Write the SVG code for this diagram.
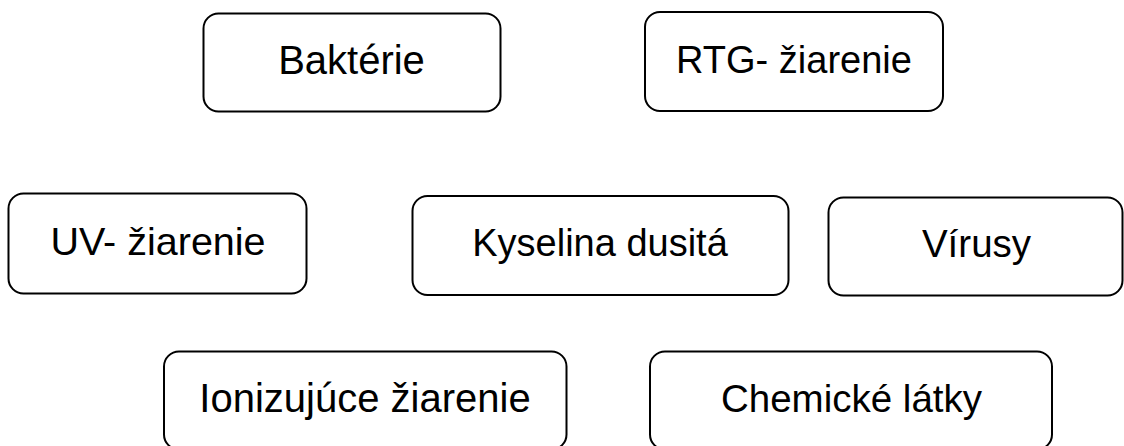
<svg xmlns="http://www.w3.org/2000/svg" width="1124" height="446" viewBox="0 0 1124 446">
<style>
.box{fill:#ffffff;stroke:#000000;stroke-width:2}
.lbl{font-family:"Liberation Sans",Arial,sans-serif;font-size:38px;fill:#000000;text-anchor:middle}
.big{font-size:40px}
</style>
<rect width="1124" height="446" fill="#ffffff"/>
<g id="connectors"></g>
<g id="bakterie"><rect class="box" x="203.5" y="13.5" width="297" height="98" rx="15"/><text class="lbl big" x="351.5" y="74">Baktérie</text></g>
<g id="rtg"><rect class="box" x="645" y="12" width="298" height="99" rx="15"/><text class="lbl" x="794" y="73">RTG- žiarenie</text></g>
<g id="uv"><rect class="box" x="8.5" y="193.5" width="298" height="100" rx="15"/><text class="lbl" x="158" y="255" style="font-size:39.5px">UV- žiarenie</text></g>
<g id="kyselina"><rect class="box" x="412.5" y="196" width="376" height="99" rx="15"/><text class="lbl" x="600" y="256">Kyselina dusitá</text></g>
<g id="virusy"><rect class="box" x="828.5" y="197.5" width="294" height="98" rx="15"/><text class="lbl" x="976.5" y="257" style="font-size:38.5px">Vírusy</text></g>
<g id="ionizujuce"><rect class="box" x="164" y="351.5" width="402.5" height="98" rx="15"/><text class="lbl big" x="365" y="412">Ionizujúce žiarenie</text></g>
<g id="chemicke"><rect class="box" x="650" y="351.5" width="402" height="98" rx="15"/><text class="lbl" x="851.5" y="412" style="font-size:38.5px">Chemické látky</text></g>
</svg>
